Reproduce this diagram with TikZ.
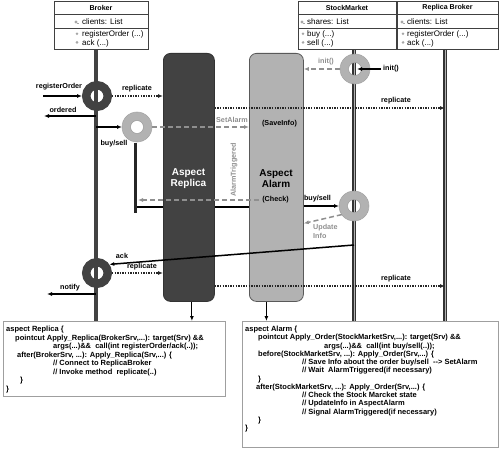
\documentclass[tikz,border=0pt]{standalone}
\usepackage{fontspec}
\setmainfont{Liberation Sans}
\usetikzlibrary{arrows.meta,calc}
\definecolor{dk}{HTML}{424242}
\definecolor{lt}{HTML}{B2B2B2}
\definecolor{gr}{HTML}{8F8F8F}
\pgfdeclarelayer{bg}
\pgfsetlayers{bg,main}
\begin{document}
\begin{tikzpicture}[x=1pt,y=-1pt,
 lbl/.style={font=\fontsize{7.2}{8}\selectfont\bfseries,inner sep=0pt},
 glbl/.style={lbl,text=gr},
 attr/.style={font=\fontsize{8}{8}\selectfont,inner sep=0pt,anchor=base west},
 ttl/.style={font=\fontsize{7.1}{8}\selectfont\bfseries,inner sep=0pt},
 codet/.style={font=\fontsize{7.5}{8}\selectfont\bfseries,inner sep=0pt,anchor=base west},
 clsbox/.style={draw=black!75,line width=0.7pt,fill=white},
 lifeline/.style={draw=dk,line width=3.5pt},
 dlife/.style={draw=black!80,line width=1.3pt,double=gray!60,double distance=1pt},
 ringd/.style={circle,draw=dk,line width=8.5pt,minimum size=21.5pt,inner sep=0pt},
 ringl/.style={circle,draw=lt,line width=8.5pt,minimum size=21.5pt,inner sep=0pt},
 ringo/.style={draw=gray!75,line width=0.5pt},
 tip/.style={-{Latex[length=5pt,width=4pt]}},
 msg/.style={draw=black,line width=1.3pt,tip},
 dotmsg/.style={draw=black!85,line width=1.3pt,dash pattern=on 1.3pt off 1.3pt,tip},
 dashmsg/.style={draw=gr,line width=1.5pt,dash pattern=on 5pt off 3pt,tip},
 aspect/.style={rounded corners=7pt,line width=0.8pt,anchor=north west,inner sep=0pt},
 aspt/.style={font=\fontsize{10}{11.5}\selectfont\bfseries,align=center,inner sep=0pt},
 codebox/.style={draw=gray!75,line width=1.2pt,fill=white,anchor=north west,inner sep=0pt},
 icon/.style={fill=gray!70},
]
\path[use as bounding box] (0,0) rectangle (500,449);

% ---------- class boxes ----------
\draw[clsbox] (54,1) rectangle (148,49);
\draw[black!75,line width=0.7pt] (54,14) -- (148,14) (54,28) -- (148,28);
\draw[clsbox] (298,1) rectangle (396,49);
\draw[black!75,line width=0.7pt] (298,14) -- (396,14) (298,28) -- (396,28);
\draw[clsbox] (397,1) rectangle (498,49);
\draw[black!75,line width=0.7pt] (397,14) -- (498,14) (397,28) -- (498,28);

\node[ttl] (brT) at (101,8) {Broker};
\node[attr] (brA) at (82,24.3) {clients: List};
\node[attr] (brM1) at (82,36.5) {registerOrder (...)};
\node[attr] (brM2) at (82,45.2) {ack (...)};
\node[ttl] (smT) at (347,8) {StockMarket};
\node[attr] (smA) at (307,24.3) {shares: List};
\node[attr] (smM1) at (307,36.5) {buy (...)};
\node[attr] (smM2) at (307,45.2) {sell (...)};
\node[ttl] (rbT) at (447.5,8) {Replica Broker};
\node[attr] (rbA) at (407,24.3) {clients: List};
\node[attr] (rbM1) at (407,36.5) {registerOrder (...)};
\node[attr] (rbM2) at (407,45.2) {ack (...)};

\foreach \ix in {76,302,402}{
  \fill[icon] (\ix,22) circle (1.6);
  \fill[icon] (\ix+1.2,23.2) rectangle (\ix+2.6,24.2);
  \fill[icon] (\ix+1,32.4) -- (\ix+2.4,33.8) -- (\ix+1,35.2) -- (\ix-0.4,33.8) -- cycle;
  \fill[icon] (\ix+1,41) -- (\ix+2.4,42.4) -- (\ix+1,43.8) -- (\ix-0.4,42.4) -- cycle;
}

% ---------- aspect boxes & code boxes ----------
\node[aspect,fill=dk,draw=black!80,minimum width=51pt,minimum height=248pt] (rep) at (163,53) {};
\node[aspt,text=white] (repT) at (188.5,178.5) {Aspect\\Replica};
\node[aspect,fill=lt,draw=black!65,minimum width=54pt,minimum height=248pt] (alarm) at (249,53) {};
\node[aspt] (alT) at (276,178.5) {Aspect\\Alarm};
\node[lbl] (save) at (279.5,124) {(SaveInfo)};
\node[lbl] (chk) at (275.5,200) {(Check)};

\node[codebox,minimum width=222pt,minimum height=75pt] (codeL) at (3,321) {};
\node[codebox,minimum width=256pt,minimum height=126pt] (codeR) at (242,321) {};

% ---------- lifelines (background) ----------
\coordinate (bTop) at (96,49);
\coordinate (smTop) at (354,49);
\coordinate (rbTop) at (445,49);
\coordinate (vT) at (135,143);
\coordinate (vB) at (135,213);
\coordinate (hS) at (135,207);
\begin{pgfonlayer}{bg}
\draw[lifeline] (bTop) -- (bTop |- codeL.north);
\draw[dlife] (smTop) -- (smTop |- codeR.north);
\draw[dlife] (rbTop) -- (rbTop |- codeR.north);
\draw[line width=1.5pt] (hS) -- (hS -| alarm.west);
\end{pgfonlayer}
\draw[line width=3pt,black!85] (vT) -- (vB);

% arrows down to code boxes
\path ($(rep.south)+(3,0)$) coordinate (ra);
\path ($(alarm.south)+(-10,0)$) coordinate (aa);
\draw[line width=1pt,tip] (ra) -- (ra |- codeL.north);
\draw[line width=1pt,tip] (aa) -- (aa |- codeR.north);

% ---------- rings ----------
\node[ringd] (r1) at (97,96) {};
\node[ringl] (r2) at (137,127) {};
\node[ringd] (r3) at (97,273) {};
\node[ringl] (s1) at (355,69) {};
\node[ringl] (s2) at (354,206) {};
\foreach \r in {r2,s1,s2}{
  \draw[ringo] (\r.center) circle (15);
  \draw[ringo] (\r.center) circle (6.5);
}

% ---------- messages ----------
\coordinate (regS) at (43,96);
\draw[msg] (regS) -- (r1.west);
\node[lbl] (regL) at (59,87) {registerOrder};

\coordinate (ordS) at (96,116);
\coordinate (ordE) at (44,116);
\draw[msg] (ordS) -- (ordE);
\node[lbl] (ordL) at (63,110) {ordered};

\draw[dotmsg] (r1.east) -- (r1.east -| rep.west);
\node[lbl] (rep1L) at (137,89) {replicate};

\coordinate (bsS) at (96,127);
\draw[draw=black,line width=1.3pt,-{Latex[open,length=5pt,width=4pt]}] (bsS) -- (r2.west);
\node[lbl] (bs1L) at (114,144) {buy/sell};

\draw[dashmsg] (r2.east) -- (r2.east -| alarm.west);
\node[glbl] (saL) at (232,120) {SetAlarm};

\coordinate (rb1) at (445,108);
\draw[dotmsg] (rep.east |- rb1) -- (rb1);
\node[lbl] (rep2L) at (396,101) {replicate};

\draw[dashmsg] (s1.west) -- (s1.west -| alarm.east);
\node[glbl] (in1L) at (326,62) {init()};
\coordinate (initS) at (381,69);
\coordinate (initE) at (357,69);
\draw[msg] (initS) -- (initE);
\node[lbl,anchor=west] (in2L) at (383,69) {init()};

\coordinate (atE) at (138,200);
\draw[dashmsg] ($(chk.west)+(-3,0)$) -- (atE);
\node[glbl,rotate=90] (atL) at (234,170) {AlarmTriggered};

\draw[msg] (alarm.east |- s2.west) -- (s2.west);
\node[lbl] (bs2L) at (317.5,199) {buy/sell};

\path (alarm.east) ++(0,46) coordinate (uiE);
\draw[dashmsg] (s2.215) -- (uiE);
\node[glbl,align=left,anchor=north west,font=\fontsize{7.2}{9}\selectfont\bfseries] (uiL) at (313,224.5) {Update\\Info};

\coordinate (ackS) at (354,245);
\draw[msg,line width=1.5pt] (ackS) -- (r3.35);
\node[lbl] (ackL) at (122,256) {ack};

\draw[dotmsg] (r3.east) -- (r3.east -| rep.west);
\node[lbl] (rep3L) at (142,267) {replicate};

\coordinate (rb2) at (445,286);
\draw[dotmsg] (rep.east |- rb2) -- (rb2);
\node[lbl] (rep4L) at (396,279) {replicate};

\coordinate (nS) at (96,294);
\coordinate (nE) at (47,294);
\draw[msg] (nS) -- (nE);
\node[lbl] (nL) at (70,288) {notify};

% ---------- code text ----------
\node[codet] (L1) at (6,331.5) {aspect Replica \{};
\node[codet] (L2) at (15,340) {pointcut Apply\_Replica(BrokerSrv,...): target(Srv) \&\&};
\node[codet] (L3) at (53,348.5) {args(...)\&\&\ \ call(int registerOrder/ack(..));};
\node[codet] (L4) at (17,357) {after(BrokerSrv, ...): Apply\_Replica(Srv,...) \{};
\node[codet] (L5) at (53,365.5) {// Connect to ReplicaBroker};
\node[codet] (L6) at (53,374) {// Invoke method\ \ replicate(..)};
\node[codet] (L7) at (20,382.5) {\}};
\node[codet] (L8) at (6,391) {\}};

\node[codet] (R1) at (245,331.5) {aspect Alarm \{};
\node[codet] (R2) at (258,339.75) {pointcut Apply\_Order(StockMarketSrv,...): target(Srv) \&\&};
\node[codet] (R3) at (324,348) {args(...)\&\&\ \ call(int buy/sell(..));};
\node[codet] (R4) at (258,356.25) {before(StockMarketSrv, ...): Apply\_Order(Srv,...) \{};
\node[codet] (R5) at (302,364.5) {// Save Info about the order buy/sell\ \ -{}-> SetAlarm};
\node[codet] (R6) at (302,372.75) {// Wait\ \ AlarmTriggered(if necessary)};
\node[codet] (R7) at (258,381) {\}};
\node[codet] (R8) at (256,389.25) {after(StockMarketSrv, ...): Apply\_Order(Srv,...) \{};
\node[codet] (R9) at (302,397.5) {// Check the Stock Marcket state};
\node[codet] (R10) at (302,405.75) {// UpdateInfo in AspectAlarm};
\node[codet] (R11) at (302,414) {// Signal AlarmTriggered(if necessary)};
\node[codet] (R12) at (258,422.25) {\}};
\node[codet] (R13) at (245,430.5) {\}};
\end{tikzpicture}
\end{document}
